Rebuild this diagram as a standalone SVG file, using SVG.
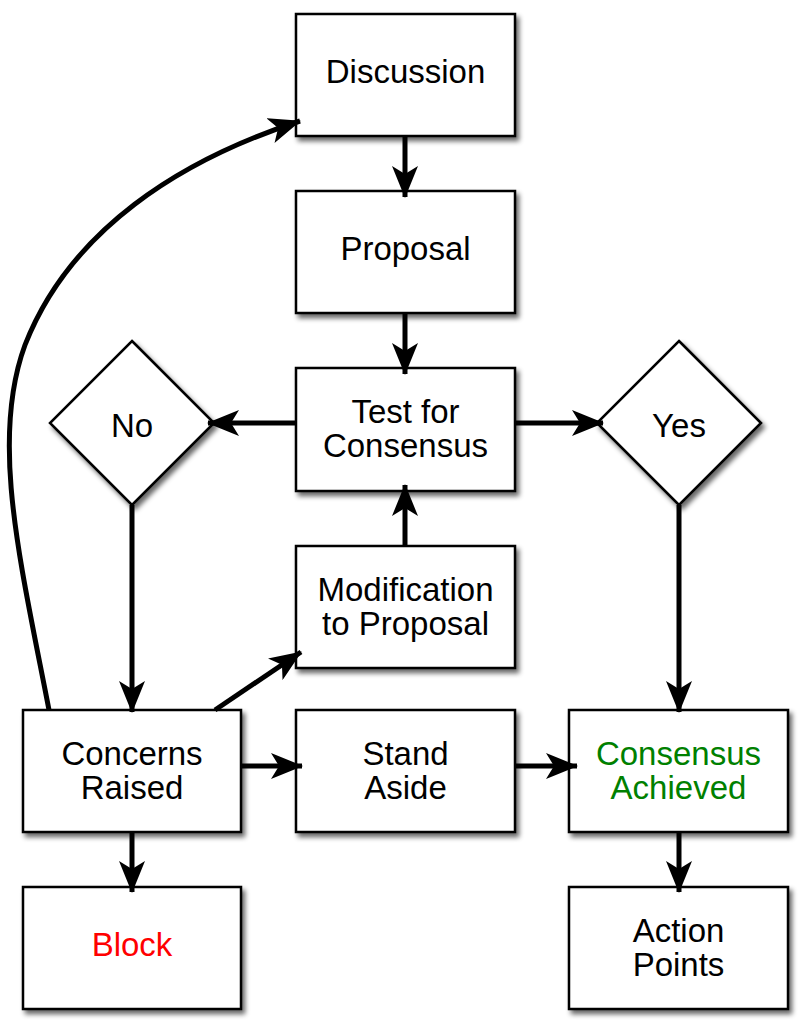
<svg xmlns="http://www.w3.org/2000/svg" width="811" height="1024" viewBox="0 0 811 1024">
<style>
.box{fill:#fff;stroke:#000;stroke-width:2.5;filter:url(#sh)}
.t{font-family:"Liberation Sans",Arial,sans-serif;font-size:33px;text-anchor:middle;fill:#000}
.c{fill:none;stroke:#000;stroke-width:5;marker-end:url(#ah)}
</style>
<defs>
<filter id="sh" x="-10%" y="-10%" width="130%" height="130%">
<feGaussianBlur in="SourceAlpha" stdDeviation="2.5"/>
<feOffset dx="3" dy="4" result="b"/>
<feComponentTransfer><feFuncA type="linear" slope="0.6"/></feComponentTransfer>
<feMerge><feMergeNode/><feMergeNode in="SourceGraphic"/></feMerge>
</filter>
<marker id="ah" viewBox="0 0 32 26" refX="31" refY="13" markerWidth="32" markerHeight="26" markerUnits="userSpaceOnUse" orient="auto">
<path d="M0,0 L32,13 L0,26 L8,13 z" fill="#000"/>
</marker>
</defs>
<g id="discussion"><rect class="box" x="296" y="14" width="219" height="122"/><text class="t" x="405.5" y="83">Discussion</text></g>
<g id="proposal"><rect class="box" x="296" y="191" width="219" height="122"/><text class="t" x="405.5" y="260">Proposal</text></g>
<g id="test"><rect class="box" x="296" y="368" width="219" height="123"/><text class="t" x="405.5" y="423">Test for</text><text class="t" x="405.5" y="457">Consensus</text></g>
<g id="modification"><rect class="box" x="296" y="546" width="219" height="122"/><text class="t" x="405.5" y="601">Modification</text><text class="t" x="405.5" y="635">to Proposal</text></g>
<g id="no"><polygon class="box" points="132,341 214,423 132,505 50,423"/><text class="t" x="132" y="437">No</text></g>
<g id="yes"><polygon class="box" points="679,341 761,423 679,505 597,423"/><text class="t" x="679" y="437">Yes</text></g>
<g id="concerns"><rect class="box" x="23" y="710" width="218" height="122"/><text class="t" x="132" y="765">Concerns</text><text class="t" x="132" y="799">Raised</text></g>
<g id="standaside"><rect class="box" x="296" y="710" width="219" height="122"/><text class="t" x="405.5" y="765">Stand</text><text class="t" x="405.5" y="799">Aside</text></g>
<g id="achieved"><rect class="box" x="569" y="710" width="219" height="122"/><text class="t" x="678.5" y="765" style="fill:#008000">Consensus</text><text class="t" x="678.5" y="799" style="fill:#008000">Achieved</text></g>
<g id="block"><rect class="box" x="23" y="887" width="218" height="122"/><text class="t" x="132" y="956" style="fill:#ff0000">Block</text></g>
<g id="action"><rect class="box" x="569" y="887" width="219" height="122"/><text class="t" x="678.5" y="942">Action</text><text class="t" x="678.5" y="976">Points</text></g>
<g id="connectors">
<path class="c" d="M405,137 L405,197"/>
<path class="c" d="M405,314 L405,374"/>
<path class="c" d="M296,423 L208,423"/>
<path class="c" d="M515,423 L603,423"/>
<path class="c" d="M405,546 L405,485"/>
<path class="c" d="M132,505 L132,712"/>
<path class="c" d="M679,505 L679,712"/>
<path class="c" d="M215,710 L301,652"/>
<path class="c" d="M242,766 L302,766"/>
<path class="c" d="M515,766 L577,766"/>
<path class="c" d="M132,833 L132,892"/>
<path class="c" d="M679,833 L679,892"/>
<path class="c" d="M49,710 C20,560 -10,440 25,345 C70,230 180,160 300,121"/>
</g>
</svg>
